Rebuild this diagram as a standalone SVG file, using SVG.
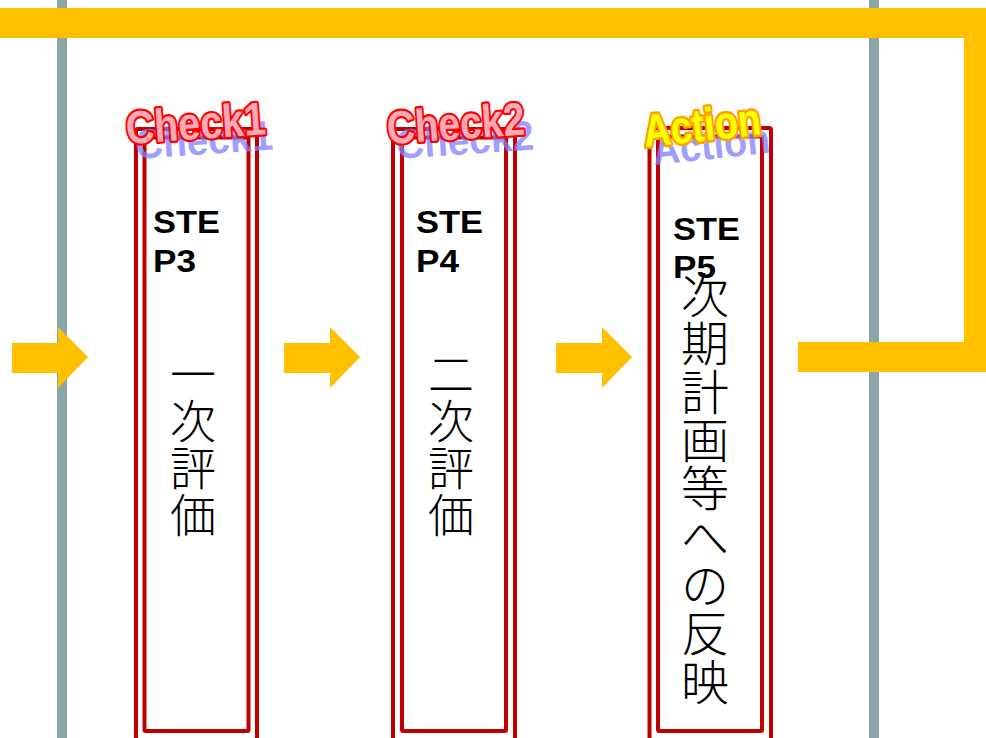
<svg xmlns="http://www.w3.org/2000/svg" width="986" height="738" viewBox="0 0 986 738">
<style>
.rail{stroke:#8CA5A8;stroke-width:10;fill:none}
.flow{fill:#FFC000}
.outer,.inner{fill:none;stroke:#C00000;stroke-width:4}
.step{font-family:"Liberation Sans",Arial,sans-serif;font-weight:bold;font-size:31px;fill:#000}
.vt{font-family:"Noto Sans CJK JP","Noto Sans CJK SC",sans-serif;font-weight:300;font-size:46px;fill:#000;text-anchor:middle}
.wa{font-family:"Liberation Sans",Arial,sans-serif;font-weight:bold;font-size:42px}
.shadow{fill:#8080FF;fill-opacity:0.75}
.pink{fill:#F9AAB6;stroke:#FF0000;stroke-width:4;paint-order:stroke;stroke-linejoin:round}
.gold{fill:#FFFF00;stroke:#FFA000;stroke-width:4.5;paint-order:stroke;stroke-linejoin:round}
</style>
<rect width="986" height="738" fill="#FFFFFF"/>
<g id="rails">
<line class="rail" x1="62" y1="0" x2="62" y2="738"/>
<line class="rail" x1="874" y1="0" x2="874" y2="738"/>
</g>
<g id="connectors">
<polyline points="798,357 979,357 979,23 0,23" fill="none" stroke="#FFC000" stroke-width="30"/>
<polygon class="flow" points="12,343 58,343 58,327 88,357 58,388 58,373 12,373"/>
<polygon class="flow" points="284,343 330,343 330,327 360,357 330,388 330,373 284,373"/>
<polygon class="flow" points="556,343 602,343 602,327 632,357 602,388 602,373 556,373"/>
</g>
<g id="node-check1">
<rect class="outer" x="136" y="129" width="121" height="630" rx="2"/>
<rect class="inner" x="144.5" y="137.5" width="104" height="593.5" rx="1"/>
<text class="step" x="153" y="233" textLength="67" lengthAdjust="spacingAndGlyphs">STE</text>
<text class="step" x="153" y="272" textLength="43" lengthAdjust="spacingAndGlyphs">P3</text>
<text class="vt" x="193" y="391">一</text>
<text class="vt" x="193" y="438">次</text>
<text class="vt" x="193" y="485">評</text>
<text class="vt" x="193" y="532">価</text>
<text class="wa shadow" transform="translate(136,159) rotate(-4) scale(1,1)" textLength="138" lengthAdjust="spacingAndGlyphs">Check1</text>
<text class="wa pink" transform="translate(127,144) rotate(-4) scale(1,1.1)" textLength="140" lengthAdjust="spacingAndGlyphs">Check1</text>
</g>
<g id="node-check2">
<rect class="outer" x="393" y="129" width="122" height="630" rx="2"/>
<rect class="inner" x="402" y="137.5" width="104" height="593.5" rx="1"/>
<text class="step" x="416" y="233" textLength="67" lengthAdjust="spacingAndGlyphs">STE</text>
<text class="step" x="416" y="272" textLength="43" lengthAdjust="spacingAndGlyphs">P4</text>
<text class="vt" x="451" y="391">二</text>
<text class="vt" x="451" y="438">次</text>
<text class="vt" x="451" y="485">評</text>
<text class="vt" x="451" y="532">価</text>
<text class="wa shadow" transform="translate(397,159) rotate(-4) scale(1,1)" textLength="138" lengthAdjust="spacingAndGlyphs">Check2</text>
<text class="wa pink" transform="translate(388,144) rotate(-4) scale(1,1.1)" textLength="138" lengthAdjust="spacingAndGlyphs">Check2</text>
</g>
<g id="node-action">
<rect class="outer" x="649.5" y="128" width="121.5" height="630" rx="2"/>
<rect class="inner" x="658" y="136.5" width="104" height="594.5" rx="1"/>
<text class="step" x="673" y="240" textLength="67" lengthAdjust="spacingAndGlyphs">STE</text>
<text class="step" x="673" y="278" textLength="43" lengthAdjust="spacingAndGlyphs">P5</text>
<text class="vt" x="705" y="313" style="font-size:48px">次</text>
<text class="vt" x="705" y="361" style="font-size:48px">期</text>
<text class="vt" x="705" y="410" style="font-size:48px">計</text>
<text class="vt" x="705" y="458" style="font-size:48px">画</text>
<text class="vt" x="705" y="506" style="font-size:48px">等</text>
<text class="vt" x="705" y="555" style="font-size:48px">へ</text>
<text class="vt" x="705" y="603" style="font-size:48px">の</text>
<text class="vt" x="705" y="651" style="font-size:48px">反</text>
<text class="vt" x="705" y="700" style="font-size:48px">映</text>
<text class="wa shadow" transform="translate(654,165) rotate(-6) scale(1,1)" textLength="118" lengthAdjust="spacingAndGlyphs">Action</text>
<text class="wa gold" transform="translate(645,147) rotate(-6) scale(1,1.1)" textLength="118" lengthAdjust="spacingAndGlyphs">Action</text>
</g>
</svg>
